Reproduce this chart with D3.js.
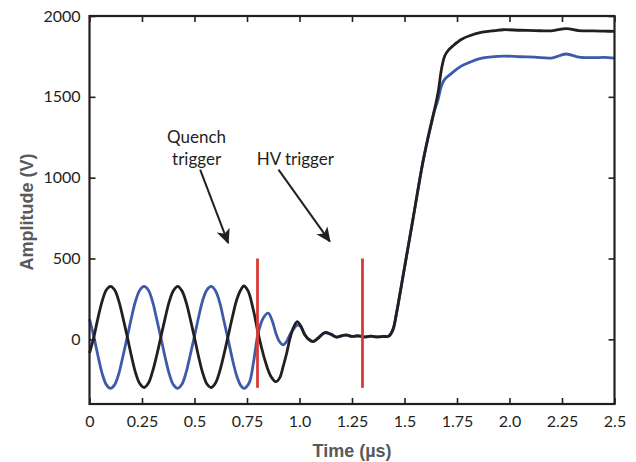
<!DOCTYPE html>
<html><head><meta charset="utf-8">
<script src="https://cdn.jsdelivr.net/npm/d3@7"></script>
<style>
html,body{margin:0;padding:0;background:#fff;}
svg{display:block;}
</style></head>
<body>
<svg id="chart" width="636" height="462"></svg>
<script>
// ---- data ----
const xTicks = [0, 0.25, 0.5, 0.75, 1.0, 1.25, 1.5, 1.75, 2.0, 2.25, 2.5];
const xTickLabels = ["0", "0.25", "0.5", "0.75", "1.0", "1.25", "1.5", "1.75", "2.0", "2.25", "2.5"];
const yTicks = [0, 500, 1000, 1500, 2000];
const yTickLabels = ["0", "500", "1000", "1500", "2000"];
const xDomain = [0, 2.5];
const yDomain = [-400, 2000];

// time (µs)
const blackT = [0.00,0.02,0.04,0.06,0.08,0.10,0.12,0.14,0.16,0.18,0.20,0.22,0.24,0.26,0.28,0.30,0.32,0.34,0.36,0.38,0.40,0.42,0.44,0.46,0.48,0.50,0.52,0.54,0.56,0.58,0.60,0.62,0.64,0.66,0.68,0.70,0.72,0.735,0.755,0.78,0.803,0.835,0.862,0.887,0.905,0.922,0.94,0.955,0.972,0.989,1.005,1.025,1.045,1.065,1.09,1.12,1.15,1.176,1.20,1.222,1.25,1.28,1.31,1.34,1.37,1.40,1.425,1.445,1.462,1.49,1.54,1.59,1.636,1.66,1.676,1.692,1.71,1.731,1.77,1.81,1.87,1.93,1.97,2.05,2.12,2.2,2.27,2.33,2.4,2.45,2.5];
// amplitude (V)
const blackV = [-85,10,130,235,305,328,305,235,130,15,-105,-210,-275,-298,-272,-200,-100,15,130,235,302,328,300,230,125,10,-110,-212,-278,-298,-270,-198,-95,20,135,240,305,330,300,183,38,-127,-225,-262,-240,-169,-80,7,75,110,85,28,-2,-14,8,42,32,14,22,28,18,22,15,20,15,18,20,60,162,369,741,1113,1382,1527,1671,1754,1790,1816,1855,1878,1900,1910,1915,1912,1910,1908,1922,1910,1908,1906,1905];

const blueT = [0.00,0.02,0.04,0.06,0.08,0.10,0.12,0.14,0.16,0.18,0.20,0.22,0.24,0.26,0.28,0.30,0.32,0.34,0.36,0.38,0.40,0.42,0.44,0.46,0.48,0.50,0.52,0.54,0.56,0.58,0.60,0.62,0.64,0.66,0.68,0.70,0.72,0.735,0.76,0.78,0.803,0.827,0.851,0.87,0.89,0.905,0.922,0.938,0.954,0.972,0.989,1.005,1.025,1.045,1.065,1.09,1.12,1.15,1.176,1.20,1.222,1.25,1.28,1.31,1.34,1.37,1.40,1.425,1.445,1.462,1.49,1.54,1.59,1.636,1.66,1.676,1.692,1.724,1.77,1.81,1.85,1.89,1.97,2.05,2.12,2.2,2.27,2.33,2.4,2.45,2.5];
const blueV = [125,20,-100,-210,-280,-303,-280,-210,-100,15,135,240,305,327,305,235,125,10,-110,-215,-282,-303,-278,-205,-95,20,140,245,308,327,300,228,115,0,-120,-222,-285,-303,-270,-150,38,131,162,115,28,-15,-34,-15,28,65,88,80,30,0,-12,10,40,30,14,22,26,18,22,15,20,15,18,20,60,162,369,741,1113,1382,1485,1568,1609,1645,1690,1713,1733,1744,1752,1748,1745,1740,1765,1745,1742,1744,1740];

const triggerT = [0.8, 1.3];
const triggerRange = [-300, 500];

const annoLines = [["Quench", "trigger"], ["HV trigger"]];
const annoTextT = [0.51, 0.98];
const annoTextV = [1215, 1080];
const arrowFromT = [0.527, 0.90];
const arrowFromV = [1050, 1050];
const arrowToT = [0.66, 1.144];
const arrowToV = [597, 606];

const xTitle = "Time (µs)";
const yTitle = "Amplitude (V)";

// ---- drawing ----
const W = 636, H = 462;
const m = {left: 89.5, right: 21.5, top: 16, bottom: 58};
const svg = d3.select("#chart");
const x = d3.scaleLinear().domain(xDomain).range([m.left, W - m.right]);
const y = d3.scaleLinear().domain(yDomain).range([H - m.bottom, m.top]);

const ink = "#231f20";
const tickFont = "Lato, 'Open Sans', sans-serif";

// data lines
const line = d3.line().x(d => x(d[0])).y(d => y(d[1])).curve(d3.curveCatmullRom.alpha(0.5));
const blueData = blueT.map((t, i) => [t, blueV[i]]);
const blackData = blackT.map((t, i) => [t, blackV[i]]);

svg.append("path").datum(blueData).attr("d", line)
  .attr("fill", "none").attr("stroke", "#3d5ba8").attr("stroke-width", 2.8)
  .attr("stroke-linejoin", "round");
svg.append("path").datum(blackData).attr("d", line)
  .attr("fill", "none").attr("stroke", ink).attr("stroke-width", 2.8)
  .attr("stroke-linejoin", "round");

// trigger lines
svg.selectAll("line.trig").data(triggerT).join("line").attr("class", "trig")
  .attr("x1", d => x(d)).attr("x2", d => x(d))
  .attr("y1", y(triggerRange[0])).attr("y2", y(triggerRange[1]))
  .attr("stroke", "#d93a36").attr("stroke-width", 2.8);

// axes (ticks pointing inward)
const axB = d3.axisBottom(x).tickValues(xTicks).tickFormat((d, i) => xTickLabels[i]).tickSizeInner(-6).tickSizeOuter(0).tickPadding(12);
const axT = d3.axisTop(x).tickValues(xTicks).tickFormat("").tickSizeInner(-6).tickSizeOuter(0);
const axL = d3.axisLeft(y).tickValues(yTicks).tickFormat((d, i) => yTickLabels[i]).tickSizeInner(-6).tickSizeOuter(0).tickPadding(9);
const axR = d3.axisRight(y).tickValues(yTicks).tickFormat("").tickSizeInner(-6).tickSizeOuter(0);

function style(g) {
  g.select(".domain").remove();
  g.selectAll(".tick line").attr("stroke", ink).attr("stroke-width", 1.6);
  g.selectAll(".tick text").attr("fill", ink).style("font-family", tickFont).style("font-size", "16px");
}
svg.append("g").attr("transform", `translate(0,${H - m.bottom})`).call(axB).call(style);
svg.append("g").attr("transform", `translate(0,${m.top})`).call(axT).call(style);
svg.append("g").attr("transform", `translate(${m.left},0)`).call(axL).call(style);
svg.append("g").attr("transform", `translate(${W - m.right},0)`).call(axR).call(style);

// frame
svg.append("rect").attr("x", m.left).attr("y", m.top)
  .attr("width", W - m.left - m.right).attr("height", H - m.top - m.bottom)
  .attr("fill", "none").attr("stroke", ink).attr("stroke-width", 2.2);

// axis titles
svg.append("text").attr("x", (x(xDomain[0]) + x(xDomain[1])) / 2).attr("y", 457)
  .attr("text-anchor", "middle").attr("fill", "#58595b")
  .style("font-family", "'Liberation Sans', Arial, sans-serif").style("font-weight", "bold").style("font-size", "18px")
  .text(xTitle);
svg.append("text").attr("transform", `translate(33,${(y(yDomain[0]) + y(yDomain[1])) / 2 + 2}) rotate(-90)`)
  .attr("text-anchor", "middle").attr("fill", "#58595b")
  .style("font-family", "'Liberation Sans', Arial, sans-serif").style("font-weight", "bold").style("font-size", "18px")
  .text(yTitle);

// annotations
annoLines.forEach((lines, i) => {
  const t = svg.append("text").attr("text-anchor", "middle").attr("fill", ink)
    .style("font-family", tickFont).style("font-size", "17px");
  lines.forEach((s, j) => {
    t.append("tspan").attr("x", x(annoTextT[i])).attr("y", y(annoTextV[i]) + j * 22).text(s);
  });
});
svg.append("defs").append("marker").attr("id", "ah")
  .attr("viewBox", "0 0 10 10").attr("refX", 9).attr("refY", 5)
  .attr("markerWidth", 7.5).attr("markerHeight", 7.5).attr("markerUnits", "strokeWidth")
  .attr("orient", "auto")
  .append("path").attr("d", "M0,0.5 L10,5 L0,9.5 L2.5,5 Z").attr("fill", ink);
arrowFromT.forEach((t, i) => {
  svg.append("line")
    .attr("x1", x(t)).attr("y1", y(arrowFromV[i]))
    .attr("x2", x(arrowToT[i])).attr("y2", y(arrowToV[i]))
    .attr("stroke", ink).attr("stroke-width", 2)
    .attr("marker-end", "url(#ah)");
});
</script>
</body></html>
